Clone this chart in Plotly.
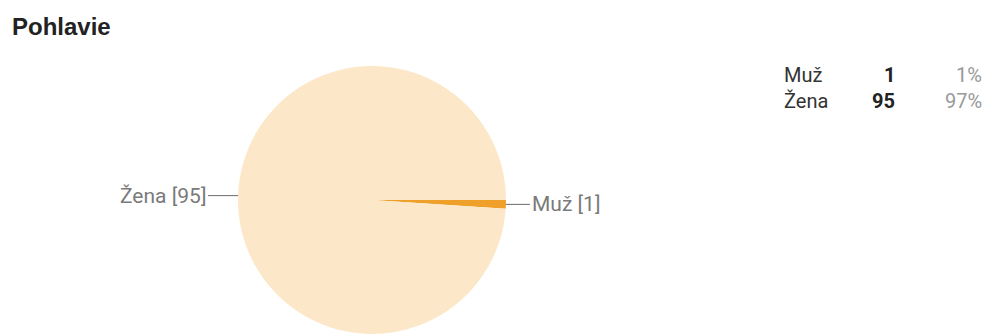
import math
import plotly.graph_objects as go

# ---- data ----
title = "Pohlavie"
categories = ["Muž", "Žena"]
counts = [1, 95]
percents = ["1%", "97%"]
slice_colors = ["#EFA02A", "#FCE8C9"]

W, H = 987, 334
# pie placement (pixels)
pie_left, pie_right = 238, 506
pie_top, pie_bottom = 66, 334
rotation = 90

fig = go.Figure()
fig.add_trace(go.Pie(
    labels=categories,
    values=counts,
    sort=False,
    direction="clockwise",
    rotation=rotation,
    marker=dict(colors=slice_colors, line=dict(width=0)),
    textinfo="none",
    hoverinfo="label+value",
    showlegend=False,
    domain=dict(x=[pie_left / W, pie_right / W], y=[1 - pie_bottom / H, 1 - pie_top / H]),
))

# leader-line labels computed from slice mid angles
cx = (pie_left + pie_right) / 2
cy = (pie_top + pie_bottom) / 2
r = min(pie_right - pie_left, pie_bottom - pie_top) / 2
total = sum(counts)
ang = rotation
annotations = []
for cat, v in zip(categories, counts):
    mid = math.radians(ang + 360 * v / total / 2)
    ang += 360 * v / total
    px = cx + r * math.sin(mid)
    py = cy - r * math.cos(mid)
    right_side = math.sin(mid) > 0
    annotations.append(dict(
        x=px / W, y=1 - py / H, xref="paper", yref="paper",
        text=f"{cat} [{v}]",
        showarrow=True, arrowhead=0, arrowwidth=1, arrowcolor="#6b6b6b",
        ax=24 if right_side else -30, ay=0,
        xanchor="left" if right_side else "right", yanchor="middle",
        font=dict(family="Roboto", size=21, color="#7a7a7a"),
    ))

# title
annotations.append(dict(
    x=10 / W, y=1 - 26 / H, xref="paper", yref="paper", text=f"<b>{title}</b>",
    showarrow=False, xanchor="left", yanchor="middle",
    font=dict(family="Liberation Sans", size=24, color="#222222"),
))

# summary table
row_y = [75, 101]
for i, (cat, v, p) in enumerate(zip(categories, counts, percents)):
    yy = 1 - row_y[i] / H
    annotations.append(dict(x=782 / W, y=yy, xref="paper", yref="paper", text=cat,
                            showarrow=False, xanchor="left", yanchor="middle",
                            font=dict(family="Roboto", size=20, color="#333333")))
    annotations.append(dict(x=897 / W, y=yy, xref="paper", yref="paper", text=f"<b>{v}</b>",
                            showarrow=False, xanchor="right", yanchor="middle",
                            font=dict(family="Roboto", size=20, color="#222222")))
    annotations.append(dict(x=984 / W, y=yy, xref="paper", yref="paper", text=p,
                            showarrow=False, xanchor="right", yanchor="middle",
                            font=dict(family="Roboto", size=20, color="#999999")))

fig.update_layout(
    width=W, height=H,
    margin=dict(l=0, r=0, t=0, b=0),
    paper_bgcolor="white", plot_bgcolor="white",
    annotations=annotations,
)
fig.write_html("out.html")
